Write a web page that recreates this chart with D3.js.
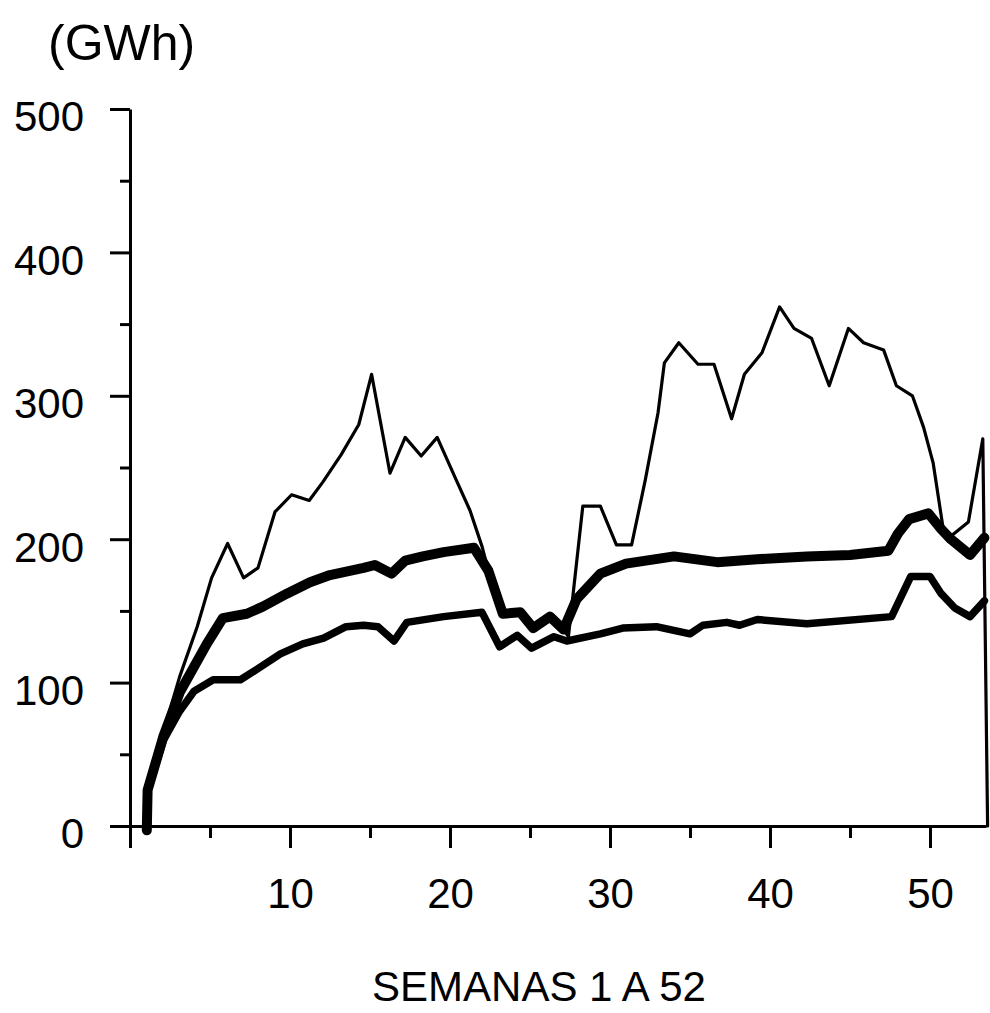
<!DOCTYPE html>
<html>
<head>
<meta charset="utf-8">
<script src="https://cdn.jsdelivr.net/npm/d3@7"></script>
<style>
  html, body { margin: 0; padding: 0; background: #fff; }
  svg { display: block; }
  text { font-family: "Liberation Sans", Arial, Helvetica, sans-serif; fill: #000; }
</style>
</head>
<body>
<svg id="chart" width="990" height="1013"></svg>
<script>
// ---- data ----
const yMajorTicks = [0, 100, 200, 300, 400, 500];
const yMinorTicks = [50, 150, 250, 350, 450];
const xMajorTicks = [0, 10, 20, 30, 40, 50];
const xMinorTicks = [5, 15, 25, 35, 45];
const xTickLabels = ["", "10", "20", "30", "40", "50"];
const unitLabel = "(GWh)";
const xTitle = "SEMANAS 1 A 52";

// thin line (maximum)
const thinWeeks  = [1.05, 1.1, 2.1, 3.1, 4.2, 5.1, 6.1, 7.1, 8.0, 9.06, 10.1, 11.2, 12.06, 13.2, 14.3, 15.1, 16.25, 17.2, 18.2, 19.2, 20.4, 21.25, 22.0, 22.4, 23.3, 24.4, 25.2, 26.25, 27.1, 27.4, 28.3, 29.4, 30.4, 31.35, 32.2, 33.0, 33.4, 34.3, 35.5, 36.5, 37.6, 38.4, 39.5, 40.6, 41.5, 42.6, 43.7, 44.9, 45.85, 47.1, 47.9, 48.9, 49.6, 50.2, 50.8, 51.3, 52.4, 53.3, 53.6];
const thinValues = [-3, 25, 66, 104, 139, 173, 197, 173, 180, 219, 231, 227, 240, 259, 280, 315, 246, 271, 258, 271, 241, 220, 195, 178, 150, 149, 138, 146, 137, 132, 223, 223, 196, 196, 241, 288, 323, 337, 322, 322, 284, 315, 330, 362, 347, 340, 307, 347, 337, 332, 307, 300, 278, 253, 209, 202, 212, 270, 0];

// thick line (mean)
const meanWeeks  = [1.05, 1.1, 2.1, 3.1, 4.8, 5.8, 7.3, 8.3, 9.8, 11.25, 12.5, 14.6, 15.3, 16.35, 17.2, 18.3, 19.6, 21.5, 22.4, 23.3, 24.4, 25.2, 26.25, 27.1, 27.9, 29.4, 31.0, 34.0, 36.7, 39.2, 42.3, 45.0, 47.4, 48.0, 48.7, 49.9, 50.7, 51.3, 52.5, 53.4];
const meanValues = [-3, 25, 63, 93, 127, 145, 148, 153, 162, 170, 175, 180, 182, 176, 185, 188, 191, 194, 178, 148, 149, 138, 146, 137, 158, 176, 183, 188, 184, 186, 188, 189, 192, 204, 214, 218, 207, 200, 189, 201];

// medium line (minimum)
const minWeeks  = [1.05, 1.1, 2.1, 3.1, 4.0, 5.2, 6.9, 7.9, 9.4, 10.8, 12.1, 13.5, 14.6, 15.5, 16.5, 17.3, 19.6, 22.0, 23.1, 24.2, 25.1, 26.5, 27.3, 29.4, 30.8, 32.9, 35.0, 35.8, 37.3, 38.1, 39.2, 42.3, 47.6, 48.8, 50.0, 50.7, 51.55, 52.5, 53.4];
const minValues = [-3, 25, 60, 80, 94, 102, 102, 109, 120, 127, 131, 139, 140, 139, 129, 142, 146, 149, 125, 133, 124, 132, 129, 134, 138, 139, 134, 140, 142, 140, 144, 141, 146, 174, 174, 162, 152, 146, 157];

// ---- drawing ----
const svg = d3.select("#chart");
const x = d3.scaleLinear().domain([0, 53.5]).range([130, 986]);
const y = d3.scaleLinear().domain([0, 500]).range([826, 109]);

const zip = (ws, vs) => ws.map((w, i) => [w, vs[i]]);
const line = d3.line().x(d => x(d[0])).y(d => y(d[1]));

// lines
const series = [
  { data: zip(thinWeeks, thinValues), width: 3.2 },
  { data: zip(minWeeks, minValues), width: 7.5 },
  { data: zip(meanWeeks, meanValues), width: 10 }
];
svg.append("g").selectAll("path").data(series).join("path")
  .attr("d", d => line(d.data))
  .attr("fill", "none")
  .attr("stroke", "#000")
  .attr("stroke-width", d => d.width)
  .attr("stroke-linejoin", "round")
  .attr("stroke-linecap", "round");

// y axis
const yAxis = svg.append("g").attr("transform", "translate(130,0)");
yAxis.call(d3.axisLeft(y).tickValues(yMajorTicks).tickSize(20).tickSizeOuter(0).tickPadding(26));
yAxis.selectAll("text").attr("font-size", 42).attr("dy", "0.52em")
  .style("font-family", "'Liberation Sans', Arial, sans-serif");
const yMinor = svg.append("g").attr("transform", "translate(130,0)");
yMinor.call(d3.axisLeft(y).tickValues(yMinorTicks).tickSize(10).tickSizeOuter(0).tickFormat(""));
yMinor.select(".domain").remove();

// x axis
const xAxis = svg.append("g").attr("transform", "translate(0,826)");
xAxis.call(d3.axisBottom(x).tickValues(xMajorTicks).tickSize(22).tickSizeOuter(0)
  .tickFormat((d, i) => xTickLabels[i]));
xAxis.selectAll("text").attr("font-size", 42).attr("y", 82).attr("dy", 0)
  .style("font-family", "'Liberation Sans', Arial, sans-serif");
const xMinor = svg.append("g").attr("transform", "translate(0,826)");
xMinor.call(d3.axisBottom(x).tickValues(xMinorTicks).tickSize(12).tickSizeOuter(0).tickFormat(""));
xMinor.select(".domain").remove();

svg.selectAll(".domain").attr("stroke", "#000").attr("stroke-width", 3);
svg.selectAll(".tick line").attr("stroke", "#000").attr("stroke-width", 3);

// labels
svg.append("text").attr("x", 48).attr("y", 60).attr("font-size", 50).text(unitLabel);
svg.append("text").attr("x", 539).attr("y", 1001).attr("text-anchor", "middle")
  .attr("font-size", 42).text(xTitle);
</script>
</body>
</html>
